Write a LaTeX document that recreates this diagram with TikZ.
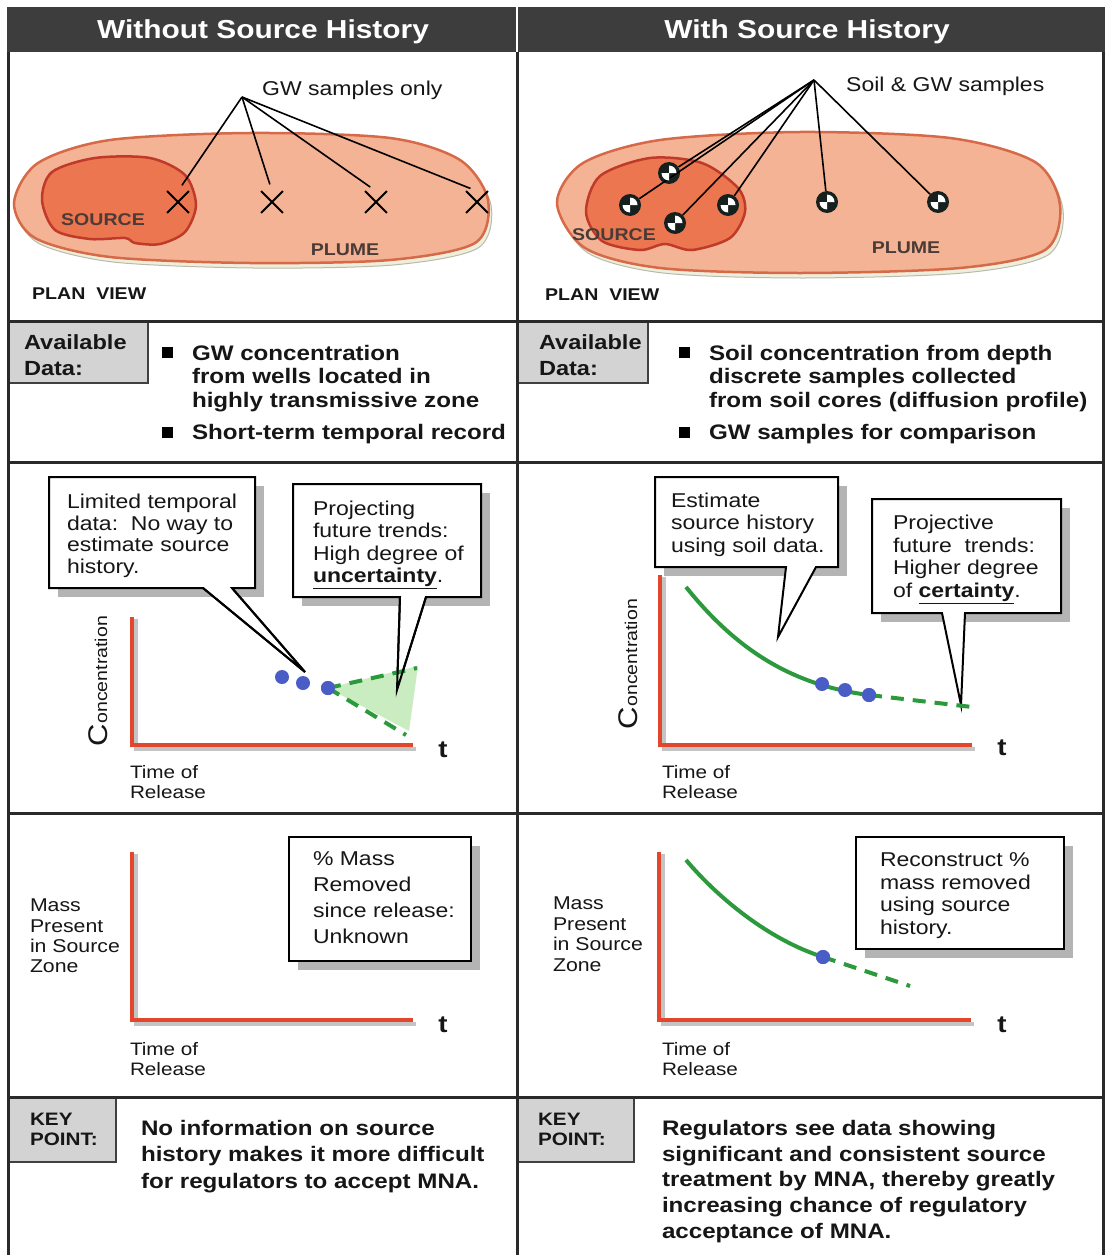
\documentclass[tikz,border=0pt]{standalone}
\usepackage{fontspec}
\setmainfont{Liberation Sans}[FakeStretch=1.15]
\usetikzlibrary{shapes.misc}
\newcommand{\setfs}[2]{\fontsize{#1}{#2}\selectfont}

\definecolor{hdrcol}{HTML}{3D3D3D}
\definecolor{framecol}{HTML}{2A2A2A}
\definecolor{ink}{HTML}{161616}
\definecolor{plumefill}{HTML}{F4B394}
\definecolor{plumeedge}{HTML}{D66A48}
\definecolor{srcfill}{HTML}{EC7650}
\definecolor{srcedge}{HTML}{C03A2A}
\definecolor{shadecol}{HTML}{EFEEDC}
\definecolor{shadeedge}{HTML}{B9BBAA}
\definecolor{lblcol}{HTML}{4B3B36}
\definecolor{welldark}{HTML}{15201F}
\definecolor{boxgray}{HTML}{D3D3D3}
\definecolor{shadowgray}{HTML}{B4B4B4}
\definecolor{axisred}{HTML}{E2462C}
\definecolor{axisgray}{HTML}{C4C4C4}
\definecolor{curvegreen}{HTML}{2C9A3C}
\definecolor{conegreen}{HTML}{C9ECC1}
\definecolor{dotblue}{HTML}{4A5CC6}

\begin{document}
\begin{tikzpicture}[x=1pt,y=-1pt,
  cellline/.style={draw=framecol, line width=3pt},
  hdrtext/.style={text=white, font=\bfseries\setfs{26}{26}, anchor=base, inner sep=0},
  txt/.style={inner sep=0, outer sep=0, align=left, anchor=north west, text=ink},
  plumeshape/.style={fill=plumefill, draw=plumeedge, line width=2.5pt},
  sourceshape/.style={fill=srcfill, draw=srcedge, line width=2.5pt},
  shadowshape/.style={fill=shadecol, draw=shadeedge, line width=1pt},
  planlbl/.style={font=\bfseries\setfs{17}{17}, text=lblcol, anchor=base, inner sep=0},
  viewlbl/.style={font=\bfseries\setfs{17}{17}, text=ink, anchor=base west, inner sep=0},
  samplelbl/.style={font=\setfs{20}{20}, text=ink, anchor=base west, inner sep=0},
  leader/.style={draw=black, line width=1.6pt},
  xmark/.style={draw=black, cross out, minimum size=20pt, inner sep=0, line width=1.8pt},
  wellnode/.style={circle, fill=welldark, minimum size=22pt, inner sep=0},
  databox/.style={fill=boxgray, draw=black!75, line width=1.5pt},
  bulletsq/.style={fill=black, minimum size=11pt, inner sep=0},
  calloutshape/.style={fill=white, draw=black, line width=2pt, line join=miter},
  boxshadow/.style={fill=shadowgray},
  axisline/.style={draw=axisred, line width=4.5pt, line join=miter},
  axisshadow/.style={draw=axisgray, line width=3.5pt},
  solidcurve/.style={draw=curvegreen, line width=4pt},
  dashcurve/.style={draw=curvegreen, line width=4pt, dash pattern=on 13pt off 9pt},
  bluedot/.style={circle, fill=dotblue, minimum size=14pt, inner sep=0},
  axislbl/.style={txt, font=\setfs{18}{20}},
  tmark/.style={font=\bfseries\setfs{24}{24}, anchor=base, inner sep=0, text=ink},
  conclbl/.style={rotate=90, anchor=base, inner sep=0, font=\setfs{17}{17}, text=ink},
  calltext/.style={txt, font=\setfs{20}{22}},
  datatext/.style={txt, font=\bfseries\setfs{21}{23.5}},
  keytext/.style={txt, font=\bfseries\setfs{21}{26.2}},
  keylbl/.style={txt, font=\bfseries\setfs{18}{20}},
  avlbl/.style={txt, font=\bfseries\setfs{20.5}{26}}
]
\useasboundingbox (0,0) rectangle (1105,1255);
\fill[white] (0,0) rectangle (1105,1255);

% ---------- header bar ----------
\fill[hdrcol] (7,7) rectangle (1105,52);
\draw[white, line width=1.5pt] (517,7) -- (517,52);
\node[hdrtext] (hL) at (263,39) {Without Source History};
\node[hdrtext] (hR) at (807,39) {With Source History};

% ---------- plan view, left ----------
\begin{scope}[shift={(3,5)}]
  \path[shadowshape] plot[smooth cycle] coordinates {(14,203) (38,163) (110,140) (250,133) (390,138) (460,160) (488,200) (475,243) (390,260) (250,263) (110,257) (35,238)};
\end{scope}
\path[plumeshape] plot[smooth cycle] coordinates {(14,203) (38,163) (110,140) (250,133) (390,138) (460,160) (488,200) (475,243) (390,260) (250,263) (110,257) (35,238)};
\path[sourceshape] plot[smooth cycle] coordinates {(42,200) (52,172) (95,158) (150,158) (185,175) (196,205) (185,232) (160,244) (135,243) (125,238) (90,239) (55,230)};
\node[planlbl] (srcL) at (103,225) {SOURCE};
\node[planlbl] (plmL) at (345,255) {PLUME};
\node[xmark] (x1) at (178,202) {};
\node[xmark] (x2) at (272,202) {};
\node[xmark] (x3) at (376,202) {};
\node[xmark] (x4) at (477,202) {};
\coordinate (apexL) at (242,97);
\foreach \t in {x1,x2,x3,x4} \draw[leader, shorten >=7pt] (apexL) -- (\t.north);
\node[samplelbl] (gwL) at (262,95) {GW samples only};
\node[viewlbl] (pvL) at (32,299) {PLAN\ \ VIEW};

% ---------- plan view, right ----------
\begin{scope}[shift={(3,5)}]
  \path[shadowshape] plot[smooth cycle] coordinates {(557,203) (583,163) (660,140) (800,132) (950,138) (1035,162) (1060,205) (1045,250) (960,268) (800,273) (660,268) (585,248)};
\end{scope}
\path[plumeshape] plot[smooth cycle] coordinates {(557,203) (583,163) (660,140) (800,132) (950,138) (1035,162) (1060,205) (1045,250) (960,268) (800,273) (660,268) (585,248)};
\path[sourceshape] plot[smooth cycle] coordinates {(586,212) (600,176) (650,158) (702,163) (738,188) (745,212) (730,238) (692,250) (665,244) (640,250) (602,241)};
\node[planlbl] (srcR) at (614,240) {SOURCE};
\node[planlbl] (plmR) at (906,253) {PLUME};
\node[wellnode] (w1) at (669,173) {};
\node[wellnode] (w2) at (630,205) {};
\node[wellnode] (w3) at (675,223) {};
\node[wellnode] (w4) at (728,205) {};
\node[wellnode] (w5) at (827,202) {};
\node[wellnode] (w6) at (938,202) {};
\coordinate (apexR) at (814,80);
\foreach \w in {w1,w2,w3,w4,w5,w6} \draw[leader] (apexR) -- (\w);
\foreach \w in {w1,w2,w3,w4,w5,w6}{
  \fill[white] (\w.center) -- ++(7.5,0) arc[start angle=0, end angle=-90, radius=7.5] -- cycle;
  \fill[white] (\w.center) -- ++(-7.5,0) arc[start angle=180, end angle=90, radius=7.5] -- cycle;
}
\node[samplelbl] (gwR) at (846,92) {Soil \& GW samples};
\node[viewlbl] (pvR) at (545,300) {PLAN\ \ VIEW};

% ---------- available data ----------
\draw[databox] (8,322) rectangle (148,383);
\node[avlbl] (adL) at (24,335) {Available\\Data:};
\node[bulletsq] (bL1) at (167,352) {};
\node[bulletsq] (bL2) at (167,432) {};
\node[datatext] (dL1) at (192,345) {GW concentration\\from wells located in\\highly transmissive zone};
\node[datatext] (dL2) at (192,424) {Short-term temporal record};

\draw[databox] (518,322) rectangle (648,383);
\node[avlbl] (adR) at (539,335) {Available\\Data:};
\node[bulletsq] (bR1) at (684,352) {};
\node[bulletsq] (bR2) at (684,432) {};
\node[datatext] (dR1) at (709,345) {Soil concentration from depth\\discrete samples collected\\from soil cores (diffusion profile)};
\node[datatext] (dR2) at (709,424) {GW samples for comparison};

% ---------- concentration plot, left ----------
\fill[boxshadow] (58,486) rectangle (264,597);
\path[calloutshape] (49,477) -- (255,477) -- (255,588) -- (232,588) -- (305,672) -- (203,588) -- (49,588) -- cycle;
\fill[boxshadow] (302,493) rectangle (490,606);
\path[calloutshape] (293,484) -- (481,484) -- (481,597) -- (426,597) -- (397,690) -- (400,597) -- (293,597) -- cycle;
\node[calltext, font=\setfs{20}{21.7}] (cL1) at (67,494) {Limited temporal\\data:\ \ No way to\\estimate source\\history.};
\node[calltext, font=\setfs{20}{22.3}] (cL2) at (313,501) {Projecting\\future trends:\\High degree of\\\textbf{\underline{uncertainty}}.};

\draw[axisshadow] (136,619) -- (136,749) -- (416,749);
\draw[axisline] (132,617) -- (132,745) -- (413,745);
\node[conclbl] (yL1) at (107,681) {\setfs{27}{27}C\setfs{17}{17}oncentration};
\node[tmark] (tL1) at (443,757) {t};
\node[axislbl] (rL1) at (130,765) {Time of\\Release};

\node[bluedot] (pL1) at (282,677) {};
\node[bluedot] (pL2) at (303,683) {};
\node[bluedot] (pL3) at (328,688) {};
\coordinate (upL) at (417,668);
\coordinate (loL) at (406,735);
\fill[conegreen] (pL3.center) -- (418,666) -- (409,731) -- cycle;
\draw[dashcurve] (pL3.center) -- (upL);
\draw[dashcurve] (pL3.center) -- (loL);
\node[bluedot] at (pL3) {};
% callout tails over the plot
\draw[black, line width=2pt] (232,588) -- (305,672) -- (203,588);
\draw[black, line width=2pt] (426,597) -- (397,690) -- (400,597);

% ---------- concentration plot, right ----------
\fill[boxshadow] (664,486) rectangle (847,576);
\path[calloutshape] (655,477) -- (838,477) -- (838,567) -- (816,567) -- (778,637) -- (786,567) -- (655,567) -- cycle;
\fill[boxshadow] (881,508) rectangle (1070,622);
\path[calloutshape] (872,499) -- (1061,499) -- (1061,613) -- (965,613) -- (961,705) -- (942,613) -- (872,613) -- cycle;
\node[calltext, font=\setfs{20}{22.5}] (cR1) at (671,493) {Estimate\\source history\\using soil data.};
\node[calltext, font=\setfs{20}{22.7}] (cR2) at (893,515) {Projective\\future\ \ trends:\\Higher degree\\of \textbf{\underline{certainty}}.};

\draw[axisshadow] (664,577) -- (664,749) -- (975,749);
\draw[axisline] (660,575) -- (660,745) -- (972,745);
\node[conclbl] (yR1) at (637,664) {\setfs{27}{27}C\setfs{17}{17}oncentration};
\node[tmark] (tR1) at (1002,755) {t};
\node[axislbl] (rR1) at (662,765) {Time of\\Release};

\coordinate (cs) at (686,587);
\node[bluedot] (pR3) at (869,695) {};
\draw[solidcurve] (cs) .. controls (735,648) and (790,685) .. (pR3.center);
\coordinate (ce) at (972,707);
\draw[dashcurve] (pR3.center) -- (ce);
\node[bluedot] (pR1) at (822,684) {};
\node[bluedot] (pR2) at (845,690) {};
\node[bluedot] at (pR3) {};

% ---------- mass plot, left ----------
\fill[boxshadow] (298,846) rectangle (480,970);
\draw[calloutshape] (289,837) rectangle (471,961);
\node[calltext, font=\setfs{20}{26}] (mL) at (313,852) {\% Mass\\Removed\\since release:\\Unknown};
\draw[axisshadow] (136,854) -- (136,1024) -- (416,1024);
\draw[axisline] (132,852) -- (132,1020) -- (413,1020);
\node[txt, font=\setfs{18.5}{20.3}] (yL2) at (30,899) {Mass\\Present\\in Source\\Zone};
\node[tmark] (tL2) at (443,1032) {t};
\node[axislbl] (rL2) at (130,1042) {Time of\\Release};

% ---------- mass plot, right ----------
\fill[boxshadow] (865,846) rectangle (1073,958);
\draw[calloutshape] (856,837) rectangle (1064,949);
\node[calltext, font=\setfs{20}{22.5}] (mR) at (880,853) {Reconstruct \%\\mass removed\\using source\\history.};
\draw[axisshadow] (663,854) -- (663,1024) -- (974,1024);
\draw[axisline] (659,852) -- (659,1020) -- (971,1020);
\node[txt, font=\setfs{18.5}{20.5}] (yR2) at (553,897) {Mass\\Present\\in Source\\Zone};
\node[tmark] (tR2) at (1002,1032) {t};
\node[axislbl] (rR2) at (662,1042) {Time of\\Release};

\coordinate (ms) at (686,860);
\node[bluedot] (pR4) at (823,957) {};
\draw[solidcurve] (ms) .. controls (720,900) and (770,940) .. (pR4.center);
\coordinate (me) at (910,986);
\draw[dashcurve] (pR4.center) -- (me);
\node[bluedot] at (pR4) {};

% ---------- key points ----------
\draw[databox] (8,1098) rectangle (116,1162);
\node[keylbl] (kL) at (30,1113) {KEY\\POINT:};
\node[keytext, font=\bfseries\setfs{21}{26.5}] (ktL) at (141,1120) {No information on source\\history makes it more difficult\\for regulators to accept MNA.};
\draw[databox] (518,1098) rectangle (634,1162);
\node[keylbl] (kR) at (538,1113) {KEY\\POINT:};
\node[keytext, font=\bfseries\setfs{21}{25.8}] (ktR) at (662,1120) {Regulators see data showing\\significant and consistent source\\treatment by MNA, thereby greatly\\increasing chance of regulatory\\acceptance of MNA.};

% ---------- table frame ----------
\draw[cellline] (8,52) -- (8,1255);
\draw[cellline] (1103,52) -- (1103,1255);
\draw[cellline] (517,52) -- (517,1255);
\foreach \yy in {321,462,813,1097} \draw[cellline] (8,\yy) -- (1103,\yy);
\end{tikzpicture}
\end{document}
